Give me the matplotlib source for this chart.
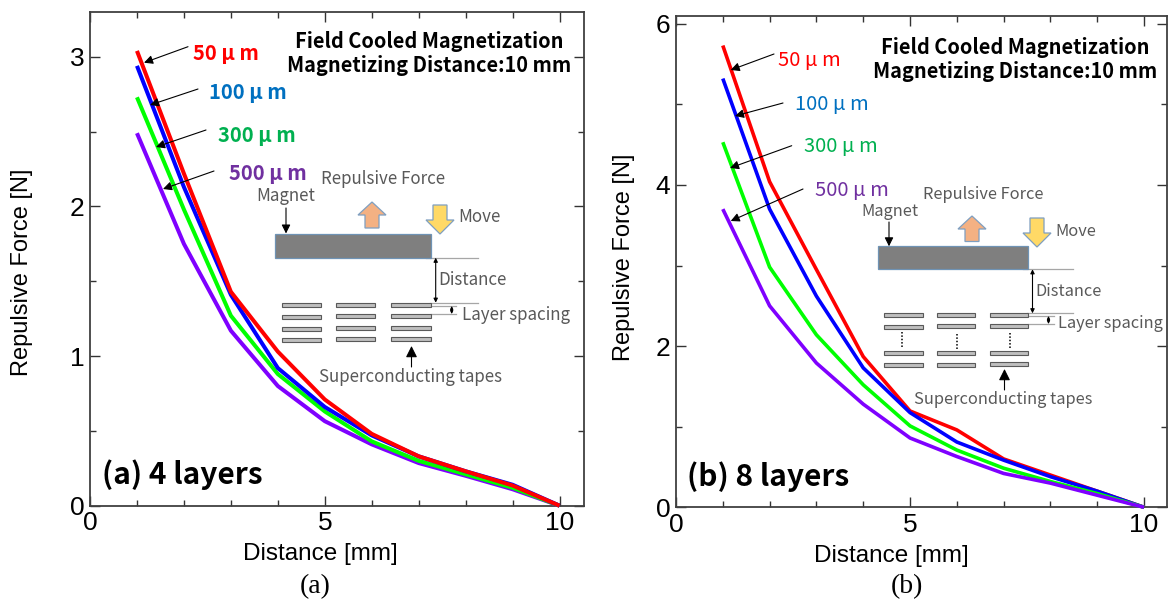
import matplotlib
matplotlib.use("Agg")
import matplotlib.pyplot as plt
from matplotlib.patches import Rectangle, Polygon, FancyArrowPatch

W, H = 1168, 600
JP = ['Noto Sans CJK JP', 'DejaVu Sans']
SANS = 'Liberation Sans'
SERIF = 'Liberation Serif'

distance = [1, 2, 3, 4, 5, 6, 7, 8, 9, 10]

a_50 = [3.04, 2.22, 1.43, 1.03, 0.71, 0.48, 0.33, 0.23, 0.135, 0.0]
a_100 = [2.94, 2.13, 1.41, 0.92, 0.66, 0.47, 0.33, 0.23, 0.14, 0.0]
a_300 = [2.73, 1.98, 1.27, 0.88, 0.63, 0.43, 0.30, 0.21, 0.12, 0.0]
a_500 = [2.49, 1.75, 1.17, 0.80, 0.565, 0.41, 0.285, 0.20, 0.11, 0.0]

b_50 = [5.73, 4.04, 2.95, 1.87, 1.195, 0.96, 0.60, 0.40, 0.20, 0.0]
b_100 = [5.32, 3.70, 2.62, 1.73, 1.175, 0.81, 0.585, 0.38, 0.20, 0.0]
b_300 = [4.53, 2.98, 2.14, 1.52, 1.01, 0.71, 0.485, 0.32, 0.17, 0.0]
b_500 = [3.70, 2.50, 1.79, 1.28, 0.86, 0.63, 0.42, 0.30, 0.15, 0.0]

series_labels = ['50 μ m', '100 μ m', '300 μ m', '500 μ m']
line_colors = ['#ff0000', '#0000ff', '#00ff00', '#7f00ff']
label_colors = ['#ff0000', '#0070c0', '#00b050', '#7030a0']

fig = plt.figure(figsize=(W / 100, H / 100), dpi=100, facecolor='white')


def make_axes(l, r, t, b, xmax, ymax, ymajor, yminor, data, order, lw):
    ax = fig.add_axes([l / W, 1 - b / H, (r - l) / W, (b - t) / H])
    ax.set_xlim(0, xmax)
    ax.set_ylim(0, ymax)
    for i in order:
        ax.plot(distance, data[i], color=line_colors[i], lw=lw,
                solid_joinstyle='miter', solid_capstyle='butt',
                clip_on=False, zorder=3)
    ax.set_xticks([0, 5, 10])
    ax.set_xticks(distance, minor=True)
    ax.set_yticks(ymajor)
    ax.set_yticks(yminor, minor=True)
    ax.tick_params(which='major', direction='in', top=True, right=True,
                   length=7.5, width=1.0, color='#333333', labelsize=19, pad=4)
    ax.tick_params(which='minor', direction='in', top=True, right=True,
                   length=4.5, width=1.0, color='#333333')
    for lab in ax.get_xticklabels() + ax.get_yticklabels():
        lab.set_family(SANS)
    for s in ax.spines.values():
        s.set_linewidth(1.3)
        s.set_color('#404040')
    return ax


make_axes(90, 584, 12, 505.7, 10.52, 3.30, [0, 1, 2, 3], [0.5, 1.5, 2.5],
          [a_50, a_100, a_300, a_500], [3, 2, 1, 0], 2.9)
make_axes(676, 1167, 15.7, 507.3, 10.49, 6.10, [0, 2, 4, 6], [1, 3, 5],
          [b_50, b_100, b_300, b_500], [0, 1, 2, 3], 2.6)

# overlay in pixel coordinates for annotations and the schematic
ov = fig.add_axes([0, 0, 1, 1], facecolor='none')
ov.set_xlim(0, W)
ov.set_ylim(H, 0)
ov.axis('off')


def arrow(x1, y1, x2, y2, style='-|>', ms=12, lw=0.8, color='black'):
    ov.add_patch(FancyArrowPatch((x1, y1), (x2, y2), arrowstyle=style,
                                 mutation_scale=ms, lw=lw, color=color,
                                 shrinkA=0, shrinkB=0, zorder=6))


def txt(x, y, s, size=11, color='#595959', ha='left', weight='normal', family=None, rot=0):
    ov.text(x, y, s, fontsize=size, color=color, ha=ha, va='center',
            fontweight=weight, family=family or JP, rotation=rot, zorder=7)


def block(cx, y_base, y_tip, half_w, shaft, head, fc):
    d = 1 if y_tip > y_base else -1
    pts = [(cx - shaft, y_base), (cx + shaft, y_base), (cx + shaft, y_tip - d * head),
           (cx + half_w, y_tip - d * head), (cx, y_tip), (cx - half_w, y_tip - d * head),
           (cx - shaft, y_tip - d * head)]
    ov.add_patch(Polygon(pts, closed=True, fc=fc, ec='#7f9fc0', lw=0.9, zorder=5))


def schematic(p):
    x0, x1, y0, y1 = p['magnet']
    ov.add_patch(Rectangle((x0, y0), x1 - x0, y1 - y0, fc='#7f7f7f', ec='#6f93b5', lw=0.9, zorder=5))
    block(p['up'][0], p['up'][1], p['up'][2], 14, 7, 13, '#f4b183')
    block(p['down'][0], p['down'][1], p['down'][2], 14, 7, 14, '#ffd966')
    arrow(p['mag_arrow'][0], p['mag_arrow'][1], p['mag_arrow'][0], y0, ms=13)
    ov.plot([x1 - 5, p['line_end']], [y1, y1], color='#a6a6a6', lw=0.9, zorder=4)
    ov.plot([x1 - 1, p['line_end']], [p['dist_y'], p['dist_y']], color='#a6a6a6', lw=0.9, zorder=4)
    for y in p['space_y']:
        ov.plot([x1, p['space_end']], [y, y], color='#a6a6a6', lw=0.9, zorder=4)
    arrow(p['dist_x'], y1, p['dist_x'], p['dist_y'], style='<|-|>', ms=6)
    arrow(p['space_x'], p['space_y'][0], p['space_x'], p['space_y'][1], style='<|-|>', ms=4)
    for (cl, cr), rows in zip(p['cols'], p['rows']):
        for y in rows:
            ov.add_patch(Rectangle((cl, y - 2), cr - cl, 4, fc='#bfbfbf', ec='#595959', lw=0.8, zorder=5))
    for x, y_a, y_b in p.get('dots', []):
        ov.plot([x, x], [y_a, y_b], color='black', lw=1.1, ls=(0, (1, 1.2)), zorder=5)
    arrow(p['tape_arrow'][0], p['tape_arrow'][1], p['tape_arrow'][0], p['tape_arrow'][2], ms=17)
    for s, x, y, ha in p['labels']:
        txt(x, y, s, size=p['fs'], ha=ha)


schematic(dict(
    magnet=(275, 430.7, 233.5, 257.7), up=(372, 228, 202), down=(440, 205, 234),
    mag_arrow=(286, 208), line_end=478, dist_y=302.7, dist_x=435.7,
    space_y=(306, 314), space_end=456, space_x=451.7,
    cols=[(281.7, 321), (336, 375), (391, 431)],
    rows=[(305, 316.7, 328.5, 340), (305, 316, 328, 339), (304.5, 316, 328, 339)],
    tape_arrow=(411.5, 367, 346), fs=12.2,
    labels=[('Magnet', 286, 196, 'center'), ('Repulsive Force', 383, 179, 'center'),
            ('Move', 458, 217, 'left'), ('Distance', 438, 280, 'left'),
            ('Layer spacing', 462, 315, 'left'), ('Superconducting tapes', 410.5, 377, 'center')]))

schematic(dict(
    magnet=(878.3, 1028, 246.3, 269.3), up=(972, 241.5, 216), down=(1037, 218, 247),
    mag_arrow=(889, 222), line_end=1073, dist_y=313.3, dist_x=1032.5,
    space_y=(316, 324), space_end=1054, space_x=1048.5,
    cols=[(884.3, 923), (937, 975), (990, 1028)],
    rows=[(315.3, 326.7, 353.3, 364.7), (315.3, 326, 353.3, 364.5), (314.7, 325.7, 352.7, 364)],
    dots=[(901.5, 332, 347), (956.5, 334, 349), (1009.5, 333, 348)],
    tape_arrow=(1004.5, 390, 369), fs=11.8,
    labels=[('Magnet', 889.5, 211, 'center'), ('Repulsive Force', 983, 194.5, 'center'),
            ('Move', 1055, 231, 'left'), ('Distance', 1035, 291, 'left'),
            ('Layer spacing', 1058, 324, 'left'), ('Superconducting tapes', 1003, 399, 'center')]))

# series labels and pointers
a_lab = [(192.7, 53), (209, 92.7), (217.7, 136), (229, 173)]
a_arr = [(188, 46.7, 144, 62.7), (198, 89, 150, 105), (206, 130, 156, 147), (214, 171, 163, 189)]
b_lab = [(778, 60), (795, 104), (803.7, 146), (815, 190)]
b_arr = [(774, 54, 730.7, 70), (783, 103, 735, 116), (791.7, 145.7, 730, 168), (803, 189, 730.7, 221)]
for i in range(4):
    txt(a_lab[i][0], a_lab[i][1], series_labels[i], size=14.5, color=label_colors[i], weight='bold')
    arrow(*a_arr[i], ms=13)
    txt(b_lab[i][0], b_lab[i][1], series_labels[i], size=14.5, color=label_colors[i])
    arrow(*b_arr[i], ms=13)

# titles
for cx, y1, y2 in [(429, 42, 66), (1015, 48, 72)]:
    txt(cx, y1, 'Field Cooled Magnetization', size=14.4, color='black', ha='center', weight='bold')
    txt(cx, y2, 'Magnetizing Distance:10 mm', size=14.4, color='black', ha='center', weight='bold')

txt(102, 475, '(a) 4 layers', size=21.5, color='black', weight='bold')
txt(687, 477, '(b) 8 layers', size=21.5, color='black', weight='bold')

txt(320, 554, 'Distance [mm]', size=17.5, color='black', ha='center', family=SANS)
txt(891, 556, 'Distance [mm]', size=17.5, color='black', ha='center', family=SANS)
txt(22, 272, 'Repulsive Force [N]', size=17, color='black', ha='center', family=SANS, rot=90)
txt(624, 257, 'Repulsive Force [N]', size=17, color='black', ha='center', family=SANS, rot=90)
txt(315, 587, '(a)', size=20, color='black', ha='center', family=SERIF)
txt(907, 587, '(b)', size=20, color='black', ha='center', family=SERIF)

fig.savefig('out.png', dpi=100)
